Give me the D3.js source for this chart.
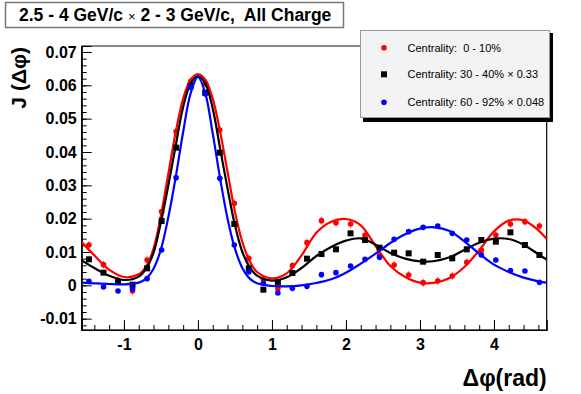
<!DOCTYPE html>
<html>
<head>
<meta charset="utf-8">
<script src="https://cdn.jsdelivr.net/npm/d3@7"></script>
<style>
  body { margin: 0; background: #fff; }
  svg { display: block; font-family: "Liberation Sans", Arial, sans-serif; }
  svg text { white-space: pre; }
</style>
</head>
<body>
<div id="chart"></div>
<script>
// bin centres in delta phi (rad)
var xBins = [-1.473, -1.276, -1.080, -0.884, -0.687, -0.491, -0.295, -0.098,
  0.098, 0.295, 0.491, 0.687, 0.884, 1.080, 1.276, 1.473,
  1.669, 1.865, 2.062, 2.258, 2.454, 2.651, 2.847, 3.043,
  3.240, 3.436, 3.632, 3.829, 4.025, 4.222, 4.418, 4.614];

var red0_10 = [0.0121, 0.0062, 0.0015, -0.0017, 0.0076, 0.0221, 0.0461, 0.0612,
  0.0605, 0.0466, 0.0246, 0.0081, 0.0018, -0.0010, 0.0059, 0.0128,
  0.0194, 0.0188, 0.0184, 0.0150, 0.0090, 0.0061, 0.0031, 0.0008,
  0.0013, 0.0028, 0.0069, 0.0105, 0.0151, 0.0184, 0.0191, 0.0178];
var black30_40 = [0.0078, 0.0038, 0.0010, 0.0002, 0.0051, 0.0193, 0.0413, 0.0598,
  0.0578, 0.0398, 0.0184, 0.0051, -0.0013, 0.0008, 0.0037, 0.0080,
  0.0094, 0.0108, 0.0156, 0.0136, 0.0113, 0.0098, 0.0096, 0.0071,
  0.0091, 0.0081, 0.0108, 0.0136, 0.0131, 0.0159, 0.0121, 0.0091];
var blue60_92 = [0.0012, -0.0005, -0.0017, -0.0010, 0.0020, 0.0106, 0.0323, 0.0594,
  0.0574, 0.0321, 0.0121, 0.0040, 0.0006, -0.0023, -0.0009, -0.0003,
  0.0032, 0.0038, 0.0058, 0.0078, 0.0084, 0.0138, 0.0161, 0.0174,
  0.0178, 0.0156, 0.0136, 0.0091, 0.0076, 0.0044, 0.0043, 0.0009];
var redErr = 0.0012, blackErr = 0.0007, blueErr = 0.0005;

// fit curves
var fitX = [-1.571, -1.4, -1.2, -1.0, -0.8, -0.7, -0.6, -0.5, -0.4, -0.3, -0.2, -0.1, 0,
  0.1, 0.2, 0.3, 0.4, 0.5, 0.6, 0.7, 0.8, 1.0, 1.2, 1.4, 1.6, 1.8, 2.0, 2.2, 2.4,
  2.6, 2.8, 3.0, 3.2, 3.4, 3.6, 3.8, 4.0, 4.2, 4.4, 4.6, 4.712];
var redFit = [0.0130, 0.0090, 0.0047, 0.0025, 0.0033, 0.0057, 0.0110, 0.0210, 0.0335, 0.0460, 0.0560, 0.0617, 0.0634,
  0.0617, 0.0560, 0.0460, 0.0340, 0.0220, 0.0130, 0.0072, 0.0040, 0.0021, 0.0036, 0.0090, 0.0158, 0.0191, 0.0199, 0.0180, 0.0118,
  0.0058, 0.0025, 0.0008, 0.0008, 0.0022, 0.0055, 0.0105, 0.0162, 0.0194, 0.0195, 0.0165, 0.0140];
var blackFit = [0.0075, 0.0052, 0.0029, 0.0016, 0.0026, 0.0050, 0.0098, 0.0190, 0.0300, 0.0420, 0.0535, 0.0605, 0.0628,
  0.0605, 0.0530, 0.0410, 0.0290, 0.0180, 0.0100, 0.0054, 0.0029, 0.0014, 0.0024, 0.0052, 0.0088, 0.0115, 0.0134, 0.0141, 0.0122,
  0.0097, 0.0080, 0.0072, 0.0073, 0.0084, 0.0106, 0.0128, 0.0140, 0.0139, 0.0122, 0.0093, 0.0077];
var blueFit = [0.0008, 0.0006, 0.0004, 0.0003, 0.0008, 0.0020, 0.0050, 0.0108, 0.0205, 0.0325, 0.0460, 0.0575, 0.0625,
  0.0575, 0.0455, 0.0320, 0.0200, 0.0110, 0.0052, 0.0020, 0.0006, -0.0002, -0.0003, 0.0000, 0.0007, 0.0018, 0.0038, 0.0065, 0.0095,
  0.0127, 0.0153, 0.0170, 0.0174, 0.0163, 0.0132, 0.0095, 0.0062, 0.0040, 0.0023, 0.0012, 0.0008];

var yMajor = [-0.01, 0, 0.01, 0.02, 0.03, 0.04, 0.05, 0.06, 0.07];
var xMajor = [-1, 0, 1, 2, 3, 4];
var legendLabels = ["Centrality:  0 - 10%", "Centrality: 30 - 40% \u00d7 0.33", "Centrality: 60 - 92% \u00d7 0.048"];

var width = 581, height = 394;
var plotLeft = 81.7, plotRight = 546.7, plotTop = 46, plotBottom = 330;

var svg = d3.select("#chart").append("svg")
  .attr("width", width)
  .attr("height", height);

var xScale = d3.scaleLinear().domain([-Math.PI / 2, 3 * Math.PI / 2]).range([plotLeft, plotRight]);
var yScale = d3.scaleLinear().domain([-0.0134, 0.0718]).range([plotBottom, plotTop]);

/* frame */
svg.append("rect")
  .attr("x", plotLeft).attr("y", plotTop)
  .attr("width", plotRight - plotLeft).attr("height", plotBottom - plotTop)
  .attr("fill", "none").attr("stroke", "#000").attr("stroke-width", 1.2);
svg.append("line")
  .attr("x1", plotLeft).attr("x2", plotRight).attr("y1", plotTop).attr("y2", plotTop)
  .attr("stroke", "#888").attr("stroke-width", 2);

/* axes */
var yMinor = d3.range(-0.012, 0.0705, 0.002);
var xMinor = d3.range(-1.4, 4.65, 0.2);
var hyphen = f => (d => f(d).replace("\u2212", "-"));

svg.append("g").attr("transform", `translate(${plotLeft},0)`)
  .call(d3.axisLeft(yScale).tickValues(yMinor).tickSize(-5).tickFormat(""))
  .call(g => g.select(".domain").remove());
svg.append("g").attr("transform", `translate(0,${plotBottom})`)
  .call(d3.axisBottom(xScale).tickValues(xMinor).tickSize(-5).tickFormat(""))
  .call(g => g.select(".domain").remove());

svg.append("g").attr("class", "y axis")
  .attr("transform", `translate(${plotLeft},0)`)
  .call(d3.axisLeft(yScale).tickValues(yMajor).tickSize(-10).tickPadding(5)
    .tickFormat(hyphen(d => d === 0 ? "0" : d3.format(".2f")(d))));
svg.append("g").attr("class", "x axis")
  .attr("transform", `translate(0,${plotBottom})`)
  .call(d3.axisBottom(xScale).tickValues(xMajor).tickSize(-10).tickPadding(9)
    .tickFormat(hyphen(d3.format("d"))));

svg.selectAll(".axis text")
  .style("font-size", "16px").style("font-weight", "bold").attr("fill", "#000");
svg.selectAll(".axis .domain").attr("stroke", "#000").attr("stroke-width", 1.2);
svg.selectAll(".tick line").attr("stroke", "#000");

/* axis titles */
svg.append("text")
  .attr("transform", `translate(26,${plotTop + 1}) rotate(-90)`)
  .attr("text-anchor", "end")
  .style("font-size", "21px").style("font-weight", "bold")
  .text("J (\u0394\u03c6)");
svg.append("text")
  .attr("x", plotRight).attr("y", 386)
  .attr("text-anchor", "end")
  .style("font-size", "23px").style("font-weight", "bold")
  .text("\u0394\u03c6(rad)");

/* series */
var series = [
  { values: red0_10, fit: redFit, err: redErr, color: "#ff0000", shape: "circle" },
  { values: black30_40, fit: blackFit, err: blackErr, color: "#000000", shape: "square" },
  { values: blue60_92, fit: blueFit, err: blueErr, color: "#0000ff", shape: "circle" }
];

svg.append("clipPath").attr("id", "frameClip")
  .append("rect").attr("x", plotLeft).attr("y", plotTop)
  .attr("width", plotRight - plotLeft).attr("height", plotBottom - plotTop);

var line = d3.line()
  .x(d => xScale(d[0]))
  .y(d => yScale(d[1]))
  .curve(d3.curveCatmullRom.alpha(0.5));

var plot = svg.append("g").attr("clip-path", "url(#frameClip)");

series.forEach(function(s) {
  var g = plot.append("g");
  var pts = xBins.map((x, i) => [x, s.values[i]]);

  g.selectAll("line.err")
    .data(pts).enter()
    .append("line")
    .attr("class", "err")
    .attr("x1", d => xScale(d[0])).attr("x2", d => xScale(d[0]))
    .attr("y1", d => yScale(d[1] - s.err)).attr("y2", d => yScale(d[1] + s.err))
    .attr("stroke", s.color).attr("stroke-width", 1).attr("opacity", 0.6);

  g.append("path")
    .attr("d", line(fitX.map((x, i) => [x, s.fit[i]])))
    .attr("fill", "none")
    .attr("stroke", s.color)
    .attr("stroke-width", 2.2);

  if (s.shape === "circle") {
    g.selectAll("circle")
      .data(pts).enter()
      .append("circle")
      .attr("cx", d => xScale(d[0]))
      .attr("cy", d => yScale(d[1]))
      .attr("r", 2.8)
      .attr("fill", s.color);
  } else {
    g.selectAll("rect")
      .data(pts).enter()
      .append("rect")
      .attr("x", d => xScale(d[0]) - 3)
      .attr("y", d => yScale(d[1]) - 3)
      .attr("width", 6).attr("height", 6)
      .attr("fill", s.color);
  }
});

/* title box */
svg.append("rect")
  .attr("x", 5.5).attr("y", 2.5).attr("width", 338).attr("height", 25)
  .attr("fill", "#fff").attr("stroke", "#777").attr("stroke-width", 1.5);
var title = svg.append("text")
  .attr("x", 19).attr("y", 21)
  .style("font-size", "17.5px").style("font-weight", "bold");
title.append("tspan").text("2.5 - 4 GeV/c ");
title.append("tspan").style("font-weight", "normal").style("font-size", "13px").text("\u00d7");
title.append("tspan").text(" 2 - 3 GeV/c,  All Charge");

/* legend */
var legend = svg.append("g");
legend.append("rect")
  .attr("x", 363).attr("y", 33).attr("width", 190).attr("height", 89)
  .attr("fill", "#000");
legend.append("rect")
  .attr("x", 360.5).attr("y", 30.5).attr("width", 189).attr("height", 87)
  .attr("fill", "#f3f3f3").attr("stroke", "#999").attr("stroke-width", 1);

var rowY = [47.7, 74.3, 102.3];
series.forEach(function(s, i) {
  if (s.shape === "circle") {
    legend.append("circle").attr("cx", 384).attr("cy", rowY[i]).attr("r", 2.8).attr("fill", s.color);
  } else {
    legend.append("rect").attr("x", 381).attr("y", rowY[i] - 3).attr("width", 6).attr("height", 6).attr("fill", s.color);
  }
  legend.append("text")
    .attr("x", 407.5).attr("y", rowY[i] + 4)
    .style("font-size", "11px")
    .attr("fill", "#000")
    .text(legendLabels[i]);
});
</script>
</body>
</html>
